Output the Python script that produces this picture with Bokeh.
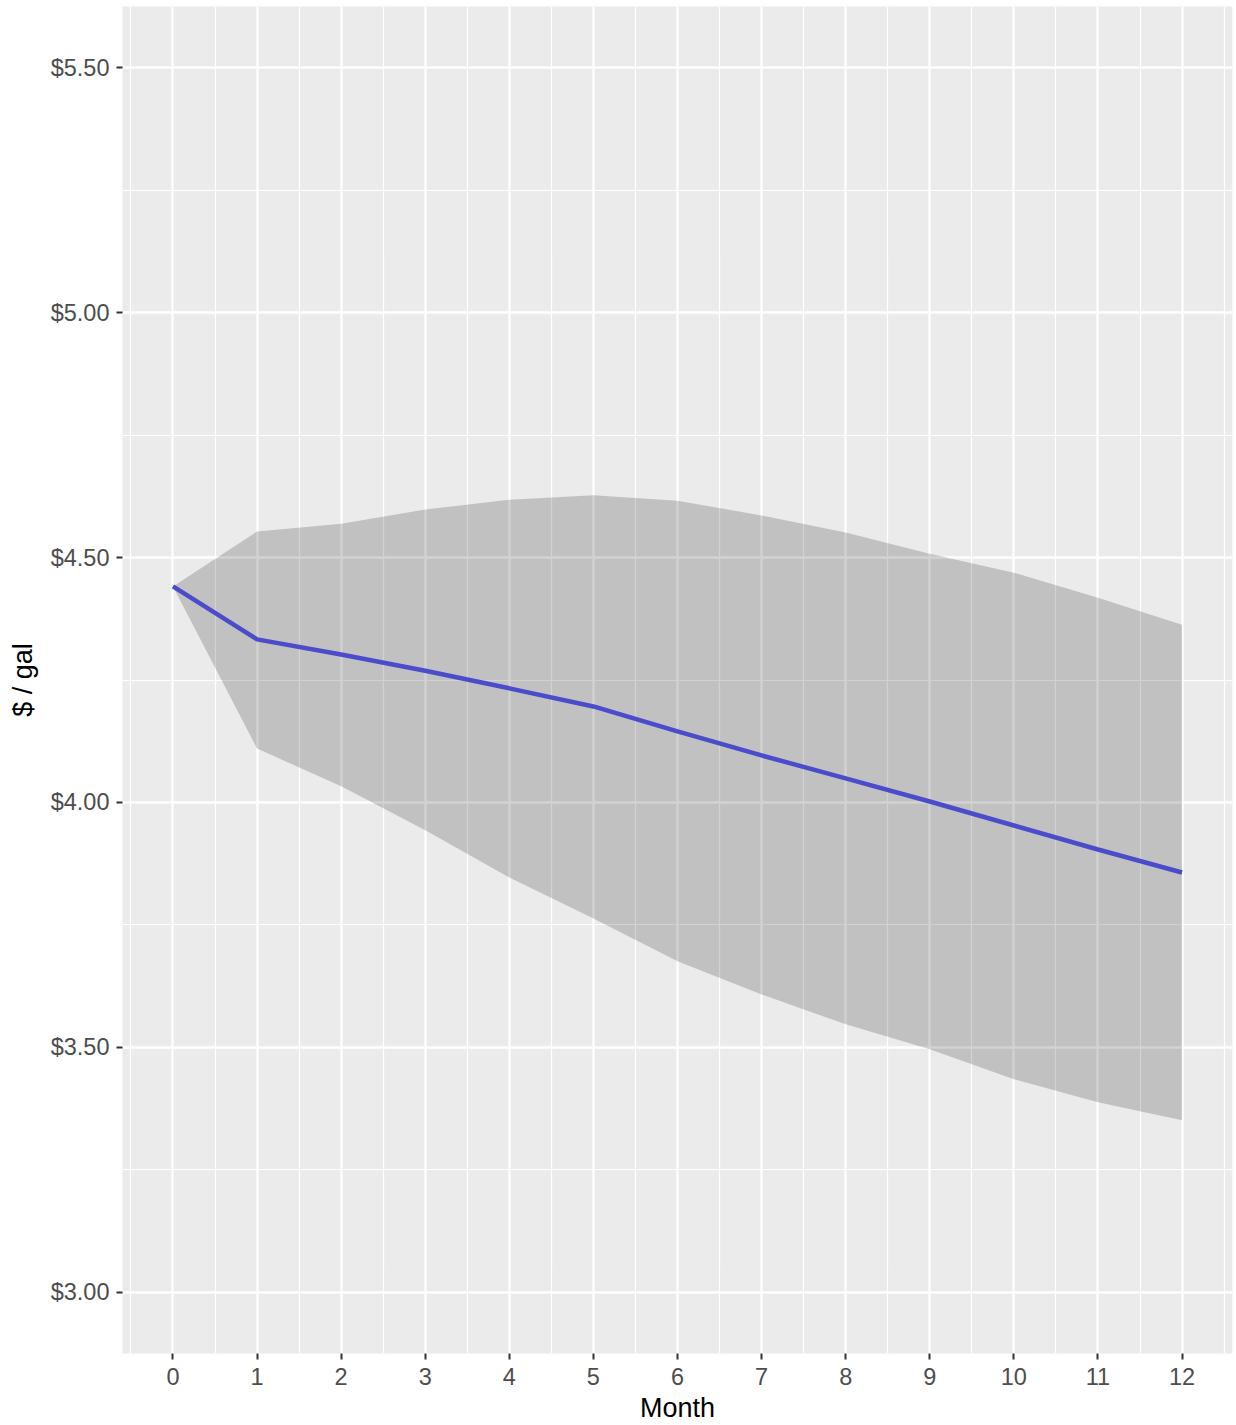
from bokeh.plotting import figure
from bokeh.models import FixedTicker, NumeralTickFormatter, Range1d
from bokeh.embed import file_html
from bokeh.resources import INLINE

months = [0, 1, 2, 3, 4, 5, 6, 7, 8, 9, 10, 11, 12]
mean_price = [4.441, 4.333, 4.302, 4.269, 4.233, 4.196, 4.145, 4.096, 4.049, 4.002, 3.953, 3.904, 3.857]
upper_price = [4.441, 4.553, 4.569, 4.598, 4.618, 4.627, 4.616, 4.586, 4.551, 4.508, 4.469, 4.418, 4.363]
lower_price = [4.441, 4.110, 4.033, 3.943, 3.847, 3.763, 3.676, 3.608, 3.547, 3.496, 3.435, 3.388, 3.351]

y_ticks = [3.0, 3.5, 4.0, 4.5, 5.0, 5.5]
y_minor = [3.25, 3.75, 4.25, 4.75, 5.25]
x_minor = [m - 0.5 for m in months] + [12.5]

FONT = "Liberation Sans"

p = figure(width=1236, height=1425, output_backend="svg", toolbar_location=None,
           x_range=Range1d(-0.6, 12.6), y_range=Range1d(2.875, 5.625),
           min_border_left=122, min_border_right=4, min_border_top=6, min_border_bottom=70)

p.background_fill_color = "#EBEBEB"
p.border_fill_color = "white"
p.outline_line_color = None

p.varea(x=months, y1=lower_price, y2=upper_price, fill_color="black", fill_alpha=0.175)
p.line(x=months, y=mean_price, line_color="#4B4BCC", line_width=4.5)

p.xaxis.ticker = FixedTicker(ticks=months, minor_ticks=x_minor)
p.yaxis.ticker = FixedTicker(ticks=y_ticks, minor_ticks=y_minor)
p.yaxis.formatter = NumeralTickFormatter(format="$0.00")

for ax in (p.xaxis, p.yaxis):
    ax.axis_line_color = None
    ax.major_tick_line_color = "#333333"
    ax.major_tick_line_width = 2
    ax.major_tick_out = 6
    ax.major_tick_in = 0
    ax.minor_tick_line_color = None
    ax.major_label_text_font = FONT
    ax.major_label_text_font_size = "23.5px"
    ax.major_label_text_color = "#4D4D4D"
    ax.axis_label_text_font = FONT
    ax.axis_label_text_font_size = "27px"
    ax.axis_label_text_font_style = "normal"
    ax.axis_label_text_color = "black"

p.xaxis.axis_label = "Month"
p.yaxis.axis_label = "$ / gal"
p.xaxis.major_label_standoff = 8
p.xaxis.axis_label_standoff = 5
p.yaxis.major_label_standoff = 7
p.yaxis.axis_label_standoff = 10

for g in (p.xgrid, p.ygrid):
    g.grid_line_color = "white"
    g.grid_line_width = 2.3
    g.minor_grid_line_color = "white"
    g.minor_grid_line_width = 1.2

open("out.html", "w").write(file_html(p, INLINE))
